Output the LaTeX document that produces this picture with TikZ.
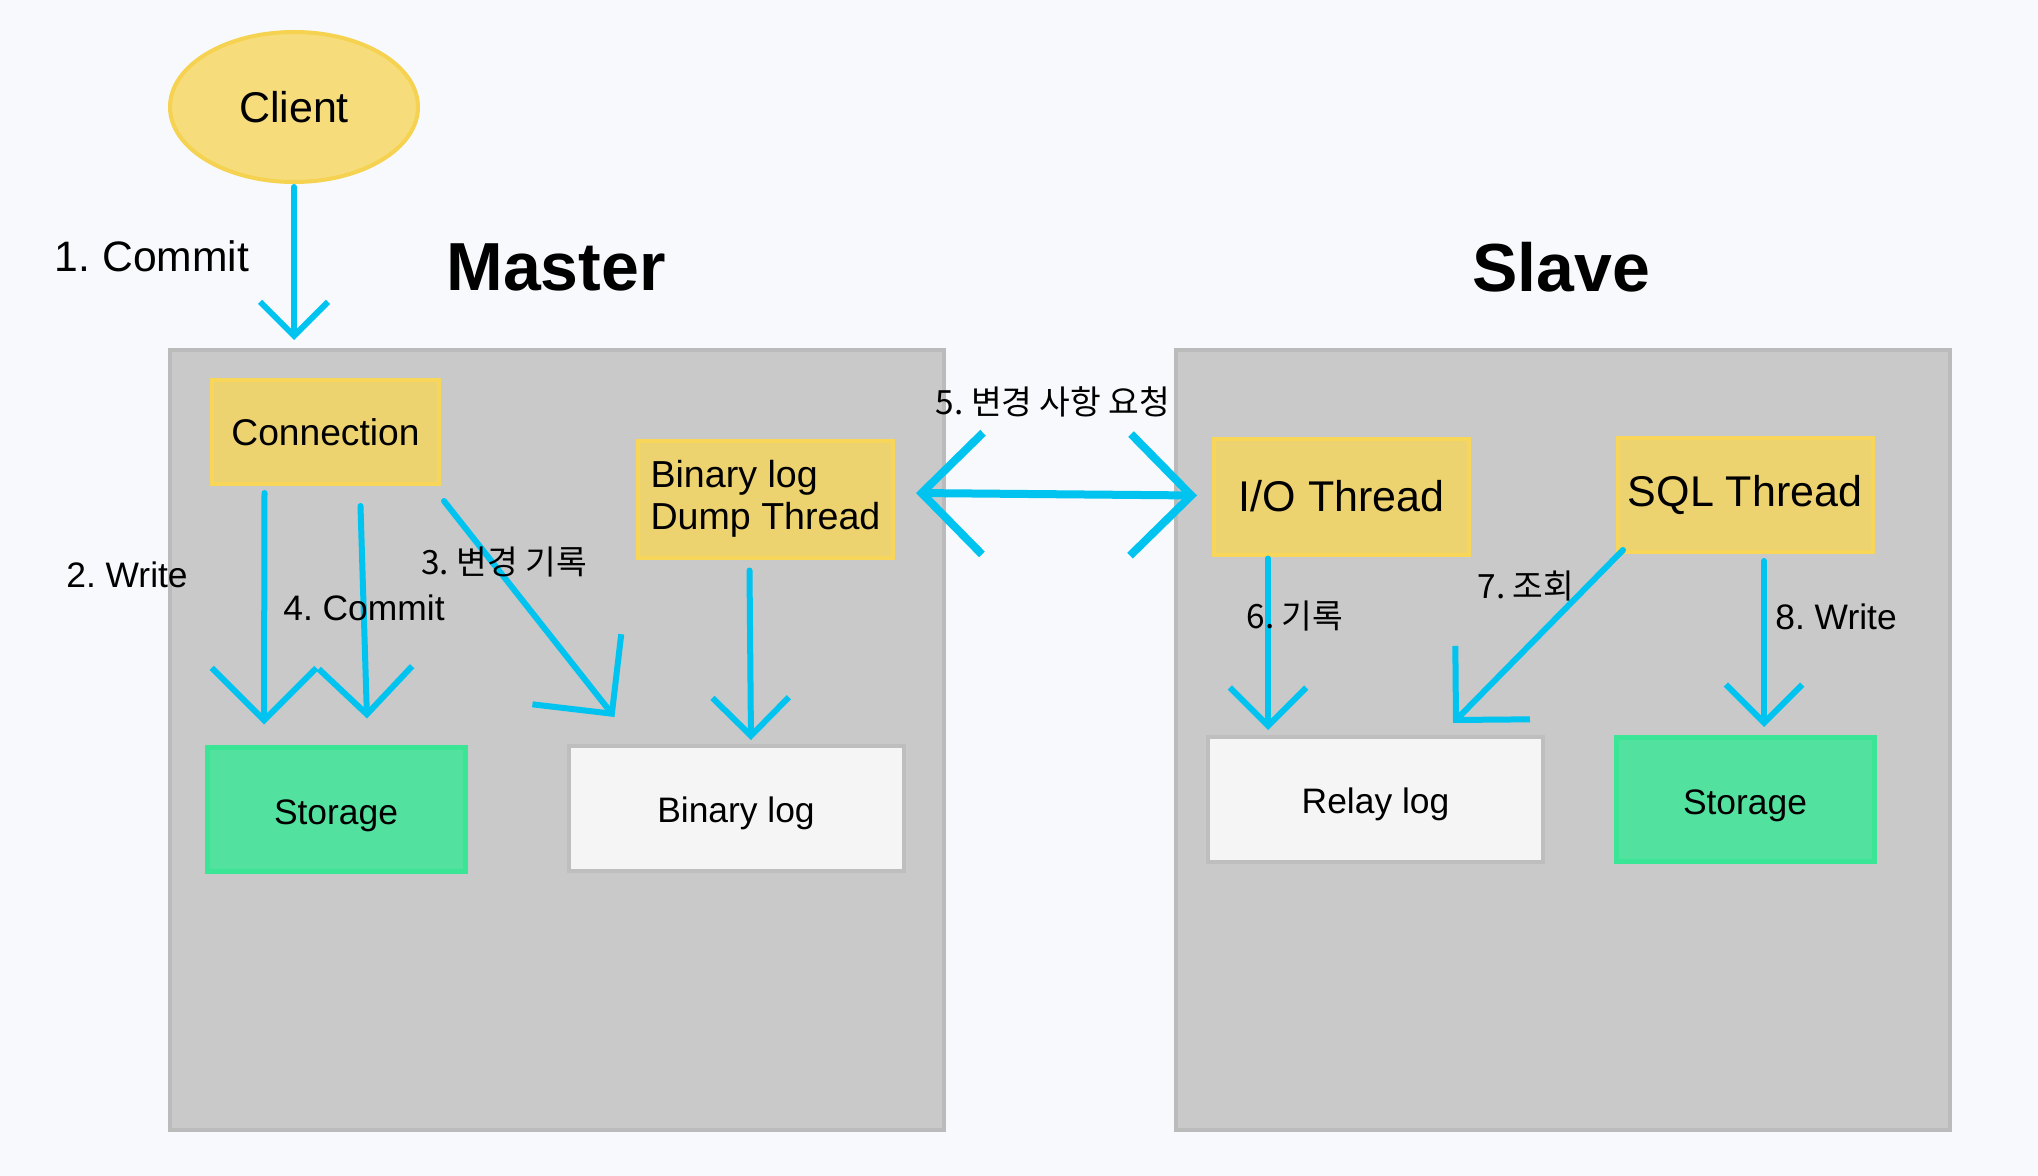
\documentclass[tikz,border=0pt]{standalone}
\usepackage{fontspec}
\setmainfont{Liberation Sans}
\newfontfamily\krfont{Noto Sans CJK KR}
\usepackage{tikz}
\usetikzlibrary{arrows.meta,calc,positioning,shapes.geometric}
\frenchspacing
\definecolor{pagebg}{RGB}{248,249,252}
\definecolor{hostfill}{RGB}{201,201,201}
\definecolor{hostline}{RGB}{187,187,187}
\definecolor{procfill}{RGB}{237,210,112}
\definecolor{procline}{RGB}{247,214,90}
\definecolor{clientfill}{RGB}{247,220,124}
\definecolor{clientline}{RGB}{245,210,80}
\definecolor{storefill}{RGB}{82,225,158}
\definecolor{storeline}{RGB}{58,229,150}
\definecolor{logfill}{RGB}{245,245,245}
\definecolor{logline}{RGB}{190,190,190}
\definecolor{flowcyan}{RGB}{0,195,240}
\tikzset{
  hostbox/.style={draw=hostline,fill=hostfill,line width=2pt,minimum width=387pt,minimum height=390pt},
  procbox/.style={draw=procline,fill=procfill,line width=2pt,inner sep=0pt},
  storebox/.style={draw=storeline,fill=storefill,line width=2.5pt,inner sep=0pt,minimum width=129pt,minimum height=62pt,
                   text height=15pt,text depth=0pt,font=\fontsize{17.7}{21}\selectfont},
  logbox/.style={draw=logline,fill=logfill,line width=2pt,inner sep=0pt,minimum width=167.5pt,minimum height=62.5pt,
                 text height=14pt,text depth=0pt,font=\fontsize{17.7}{21}\selectfont},
  flow/.style={draw=flowcyan,line width=3pt,line cap=round,-{Straight Barb[angle=90:#1]}},
  flow/.default=24pt,
  steplabel/.style={font=\fontsize{17.7}{21}\selectfont},
  krlabel/.style={font=\krfont\fontsize{16.7}{20}\selectfont},
}

\begin{document}
\begin{tikzpicture}[x=0.5pt,y=-0.5pt]
  \fill[pagebg] (0,0) rectangle (2038,1176);
  \useasboundingbox (0,0) rectangle (2038,1176);
  % hosts
  \node[hostbox] (master) at (557,740) {};
  \node[hostbox] (slave) at (1563,740) {};
  \node[font=\bfseries\fontsize{34}{40}\selectfont] (mastertitle) at (556,267) {Master};
  \node[font=\bfseries\fontsize{34}{40}\selectfont] (slavetitle) at (1561,267) {Slave};
  \node[ellipse,draw=clientline,fill=clientfill,line width=2pt,inner sep=0pt,
        minimum width=124pt,minimum height=75pt,font=\fontsize{21.5}{26}\selectfont] (client) at (294,107) {Client};
  % master side
  \node[procbox,minimum width=113.5pt,minimum height=52pt,font=\fontsize{18.6}{22}\selectfont] (conn) at (325.5,432) {Connection};
  \node[procbox,minimum width=127.5pt,minimum height=58.5pt,align=left,font=\fontsize{18.8}{21}\selectfont] (dump) at (765.5,499) {Binary log\\Dump Thread};
  \node[storebox] (mstore) at (336,809) {Storage};
  \node[logbox] (binlog) at (736,808.5) {Binary log};
  % slave side
  \node[procbox,minimum width=127.5pt,minimum height=58pt,font=\fontsize{21.5}{26}\selectfont] (iot) at (1341.5,496.5) {I/O Thread};
  \node[procbox,minimum width=127.5pt,minimum height=57pt,font=\fontsize{21.5}{26}\selectfont] (sqlt) at (1745,495) {SQL Thread};
  \node[logbox] (relay) at (1375.5,799.5) {Relay log};
  \node[storebox] (sstore) at (1745,799.5) {Storage};
  % flows
  \draw[flow] ($(client.south)+(0,3)$) -- ($(client.south |- master.north)+(0,-8)$);
  \draw[flow=37pt] ($(conn.south)+(-61,7)$) -- ($(mstore.north)+(-72,-20)$);
  \draw[flow=33pt] ($(conn.south)+(35,20)$) -- ($(mstore.north)+(31,-26)$);
  \draw[flow=40pt] ($(conn.south east)+(3,15)$) -- ($(binlog.north west)+(48,-27)$);
  \draw[flow=27pt] ($(dump.south)+(-16,11)$) -- ($(binlog.north)+(15,-4)$);
  \draw[flow=43pt,line width=4pt,{Straight Barb[angle=90:43pt]}-{Straight Barb[angle=90:43pt]}]
    ($(dump.east)+(21,-6)$) -- ($(iot.west)+(-15,-1)$);
  \draw[flow=27pt] ($(iot.south)+(-73.5,2)$) -- ($(relay.north)+(-107.5,-5)$);
  \draw[flow=37pt] ($(sqlt.south west)+(7.5,-4)$) -- ($(relay.north east)+(-92,-12)$);
  \draw[flow=27pt] ($(sqlt.south)+(19,7)$) -- ($(sstore.north)+(19,-8)$);
  % step labels
  \node[font=\fontsize{21.3}{26}\selectfont] (commitone) at (152,256) {1. Commit};
  \node[steplabel] (writetwo) at (127,575) {2. Write};
  \node[krlabel] (recordthree) at (504,562) {3. 변경 기록};
  \node[steplabel] (committwo) at (364,608) {4. Commit};
  \node[krlabel] (requestfive) at (1053,402) {5. 변경 사항 요청};
  \node[krlabel] (recordsix) at (1295,616) {6. 기록};
  \node[krlabel] (readseven) at (1526,586) {7. 조회};
  \node[steplabel] (writeeight) at (1836,617) {8. Write};
\end{tikzpicture}
\end{document}
